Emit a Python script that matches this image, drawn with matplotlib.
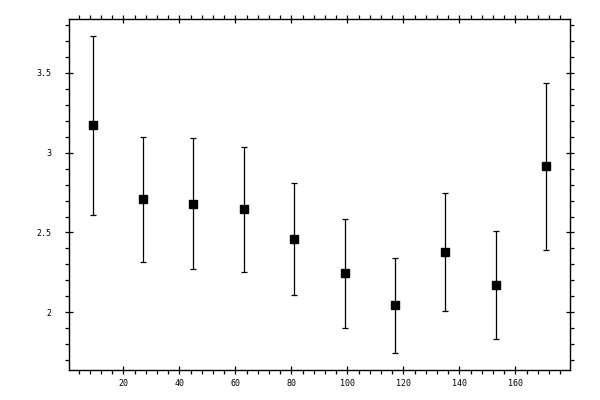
import matplotlib
matplotlib.use("Agg")
import matplotlib.pyplot as plt
from matplotlib.ticker import MultipleLocator, FormatStrFormatter

# data
x = [9, 27, 45, 63, 81, 99, 117, 135, 153, 171]
y = [3.17, 2.707, 2.681, 2.644, 2.458, 2.244, 2.044, 2.375, 2.169, 2.913]
err = [0.562, 0.391, 0.412, 0.39, 0.35, 0.34, 0.297, 0.369, 0.338, 0.52]

fig = plt.figure(figsize=(6, 4), dpi=100)
ax = fig.add_axes([0.1155, 0.075, 0.8345, 0.877])

ax.errorbar(x, y, yerr=err, fmt="s", color="black", ms=5.3,
            elinewidth=0.9, capsize=2.4, capthick=0.9)

ax.set_xlim(0.7, 179.5)
ax.set_ylim(1.64, 3.834)

ax.xaxis.set_major_locator(MultipleLocator(20))
ax.xaxis.set_minor_locator(MultipleLocator(4))
ax.yaxis.set_major_locator(MultipleLocator(0.5))
ax.yaxis.set_minor_locator(MultipleLocator(0.1))
ax.yaxis.set_major_formatter(FormatStrFormatter("%g"))

for s in ax.spines.values():
    s.set_linewidth(1.0)

ax.tick_params(which="both", top=True, right=True, width=0.9, color="black")
ax.tick_params(which="major", direction="inout", length=5.5)
ax.tick_params(which="minor", direction="out", length=2.7)
ax.tick_params(axis="x", which="major", pad=4)
ax.tick_params(axis="y", which="major", pad=10)
for lab in ax.get_xticklabels() + ax.get_yticklabels():
    lab.set_family("DejaVu Sans Mono")
    lab.set_fontsize(6)

fig.savefig("out.png", dpi=100)
